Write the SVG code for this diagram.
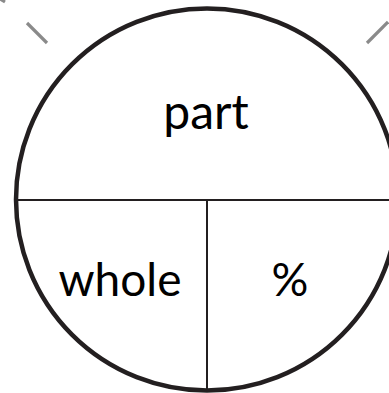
<svg xmlns="http://www.w3.org/2000/svg" width="389" height="393" viewBox="0 0 389 393">
<style>
.lbl{font-family:Lato,"DejaVu Sans",sans-serif;fill:#000;text-anchor:middle}
.tick{stroke:#8a8a8a;stroke-width:3.2;fill:none}
.div{stroke:#231f20;stroke-width:2;fill:none}
</style>
<rect width="389" height="393" fill="#fff"/>
<g id="ticks">
<line class="tick" x1="27" y1="23" x2="47" y2="43"/>
<line class="tick" x1="367" y1="43" x2="388" y2="22"/>
<line class="tick" x1="0" y1="-1" x2="5" y2="2"/>
</g>
<g id="circle">
<circle cx="207" cy="199.5" r="191" fill="none" stroke="#231f20" stroke-width="4.5"/>
</g>
<g id="connectors">
<line class="div" x1="16" y1="200" x2="389" y2="200"/>
<line class="div" x1="207" y1="200" x2="207" y2="391"/>
</g>
<g id="part"><text class="lbl" x="206" y="129" font-size="48">part</text></g>
<g id="whole"><text class="lbl" x="120" y="296" font-size="46">whole</text></g>
<g id="percent"><text class="lbl" x="290" y="296" font-size="46">%</text></g>
</svg>
